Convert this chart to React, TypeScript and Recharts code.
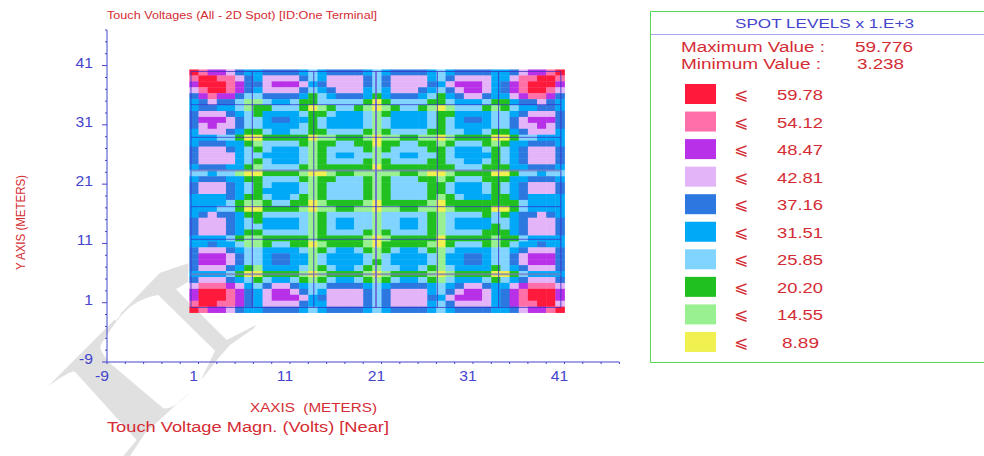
import { Scatter, ScatterChart, XAxis, YAxis } from "recharts";

// spot levels x 1.E+3, highest first
const levelValues = [59.78, 54.12, 48.47, 42.81, 37.16, 31.51, 25.85, 20.2, 14.55, 8.89];
const levelLabels = ["59.78", "54.12", "48.47", "42.81", "37.16", "31.51", "25.85", "20.20", "14.55", "8.89"];
const levelColors = ["#ff1a3c", "#ff70a8", "#b830e8", "#e4b4f8", "#2c78e0", "#00a8f8", "#80d4ff", "#20c020", "#98f090", "#f0f050"];
const levelCodes = "RPULDAGHIY";

const axisTicks = [-9, -7, -5, -3, -1, 1, 3, 5, 7, 9, 11, 13, 15, 17, 19, 21, 23, 25, 27, 29, 31, 33, 35, 37, 39, 41, 43, 45, 47];
const labelledTicks = [-9, 1, 11, 21, 31, 41];

// one letter per cell, top row first
const gridRows = [
  "RPUULDAADDDDAGADDDDAGADDDDAGADDDDAADLUUPR",
  "PRRPPLDALLLLDGALLLLDGDLLLLAGDLLLLAALPPRRP",
  "URRRPUDDLUUULADLLLLDGDLLLLDALUUULADUPRRRU",
  "LPRRPUDALLLLDGADLLLAGALLLDAGDLUULADUPRRPL",
  "DUPUUDGGDDDDAHGADDDAHADDDAGHADLLDAALUPPUD",
  "ADLDDGIIGAAGHHGGGGGHYHGGGGHHGAAAGHHADDLDA",
  "ADDAAGIHHGGGHYIHGGHIYIHGGHIYIGGGHIHGAADDA",
  "DLLLDAGHAAAAGHHGAAAGIHAAAAGHHAAAAGGADLLLD",
  "DUUULDGGADDAAHGAAAAGIGAAAAGHGADDAGGDLUUUD",
  "DLULLDGGAAAAGHGAAAAGIGAAAAGHGAAAAGGDLLULD",
  "ALLLDAHHGAAGGHHGGGGHIHGGGGHHGGAAGHHADLLLA",
  "AAAGGHYYHHHHHYIIHHHIYIIHHIIYIHHHHYYHGGAAA",
  "ADDDAAHIGGGGHIHHGGHHYHHGGHHIHGGGHIHAADDDA",
  "DLLLDAGHGAAAGIHGGGGHIHGGGGHHGAAAGHGADLLLD",
  "DLLLLAGGAAAAGIHGAAGGIGGAAGGHGAAAAHGADLLLD",
  "DLLLLAGHGAAAGIHGGGGHIHGGGGHHGGAAGHGADLLLD",
  "ADDDAAHIGGGGHIHHHHHHYHHHHHHHHGGGHHHAADDDA",
  "GGAGGIYYHHHHIYYIHHIIIIIHHIYYIHHHHYYHGGAGG",
  "ADDDAAHHGGGGHIHHGGGHIHGGGHHIHGGGHHHAADDDA",
  "DLLLDAGHGAAAGIHGGGGHIHGGGGHHGAAAGHGADLLLD",
  "DLLLDAGHAAAAGIHGGGGHIHGGGGHHGAAAGHGADLLLD",
  "AAAADAHHGAAGHIHGGGGHIHGGGGHIHGAAAHHADAAAA",
  "AAAAGHIIHGGHHYIHHHHIYHHHHHIYHHHHHHHHGAAAA",
  "AAAGGHYYHHHHIYIIHHIIYIIHHIIYIHHHHYYHGAAAA",
  "ADLDDAHHGGGGGIHGGGGGIGGGGGHIGGGGHGHADDLDA",
  "DLLLDAGHAAAAGIHGAAGGIGGAAGHIGAAAAGGADLLLD",
  "DLLLDAGGAAAAGIHGAAGGIGGAAGHIGAAAAHGADLLLD",
  "DLLLDAHHGGGGGIHGGGGHIHGGGGHIGGGGHHHADLLLD",
  "AAAAGHIIHHHHHIHHHHHIYIHHHHHYHHHHHIHHGAAAA",
  "AADAAGIIHGGHHYIHHHHIYHHHHHIYHGGGHIHGAADAA",
  "DLLLDAGGAAAAGIHGAAGHIHGAAGHIGAAAAGGADLLLD",
  "DUUULDGGADDAAIGAAAAGIGAAAAGIAADDAGGDLUUUD",
  "DUUULDGGADDAAIGAAAAGHGAAAAGIAADDAGGDLUUUD",
  "DLLLDAHIAAAAGIHGAAGHIGGAAGHIGAAAAHGADLLLD",
  "AAAAGHYYHHHHIYIHHHHIYIHHHHIYIHHHHYYHGAAAA",
  "DLLLDAGHGAAGHIHGAAGHIHGAAGHIGAAAGHGADLLLD",
  "LPPPULAGDLLDAGGDDDDAGADDDDAGADLLDAALUPPPL",
  "URRRPUDALUULDGALLLLDGDLLLLAGDLUULADUPRRRU",
  "URRRPUDALUUULADLLLLDGDLLLLDALUUULADUPRRRU",
  "PRRPPUDALLLLDAALLLLDGDLLLLAGDLLLLADUPPRRL",
  "RPUULDAADDDDAGADDDDAGADDDDAGADDDDAADLUUPR",
];

// grid conductors, metres
const conductorX = [0.18, 6.88, 13.6, 20.4, 27.1, 33.8, 40.6];
const conductorY = [40, 34.4, 28.9, 23.3, 17.2, 11.7, 5.8, 0.2];
const softConductors = [20.4, 23.3, 5.8];

const plot = { left: 107, right: 619.4, top: 30, bottom: 362 };
const domain: [number, number] = [-9, 47];
const cellW = (plot.right - plot.left) / (domain[1] - domain[0]);
const cellH = (plot.bottom - plot.top) / (domain[1] - domain[0]);

const cells = gridRows.flatMap((row, r) =>
  row.split("").map((code, c) => ({
    x: c + 0.5,
    y: 39.84 - r,
    value: levelValues[levelCodes.indexOf(code)],
  }))
);

const BLUE = "#4444cc";
const RED = "#d42c34";
const FONT = "Liberation Sans, Arial, sans-serif";

const CellShape = ({ cx, cy, payload }: any) => (
  <rect
    x={cx - cellW / 2}
    y={cy - cellH / 2}
    width={cellW + 0.4}
    height={cellH + 0.4}
    fill={levelColors[levelValues.indexOf(payload.value)]}
  />
);

const NoPoint = () => null;

const XTick = ({ x, y, payload }: any) => {
  const labelled = labelledTicks.includes(payload.value);
  return (
    <g>
      <line x1={x} x2={x} y1={y} y2={y + 2} stroke={BLUE} />
      {labelled && (
        <text x={x - 5} y={y + 19} textAnchor="middle" fill={BLUE} fontSize={14} fontFamily={FONT} transform={`translate(${x - 5} 0) scale(1.12 1) translate(${5 - x} 0)`}>
          {payload.value}
        </text>
      )}
    </g>
  );
};

const YTick = ({ x, y, payload }: any) => {
  const labelled = labelledTicks.includes(payload.value);
  const right = x - 14;
  return (
    <g>
      <line x1={x - (labelled ? 5 : 2)} x2={x} y1={y} y2={y} stroke={BLUE} />
      {labelled && (
        <text x={right} y={y + 2} textAnchor="end" fill={BLUE} fontSize={14} fontFamily={FONT} transform={`translate(${right} 0) scale(1.12 1) translate(${-right} 0)`}>
          {payload.value}
        </text>
      )}
    </g>
  );
};

const Watermark = () => (
  <svg width={984} height={456} style={{ position: "absolute", left: 0, top: 0 }}>
    <path
      d="M48.3 386 L116 318.3 L160 272.7 L188.3 263.3 L188.3 281.7 L176 289.3 L188.3 301.7 L226.7 340 L256 325 L254 328.3 L230 345 L218.3 358.3 L200.7 380.7 L215 350.7 L158.3 295 C130 300 120 315 101.7 343.3 C98.3 348.3 101.7 351.7 108.3 361.7 L163.3 408.3 Q173.3 410 189.3 392.7 L145 433.3 L130 456 L123.3 456 L136.7 440 L75 371.7 Q71.7 369.3 48.3 386 Z"
      fill="#e0e0e0"
    />
    <line x1={115} y1={320} x2={120} y2={314} stroke="#fff" strokeWidth={2} />
  </svg>
);

const Panel = () => (
  <svg width={984} height={456} style={{ position: "absolute", left: 0, top: 0, fontFamily: FONT }}>
    <text x={107} y={19} fontSize={10} fill={RED} textLength={270} lengthAdjust="spacingAndGlyphs">Touch Voltages (All - 2D Spot) [ID:One Terminal]</text>
    <text x={250} y={412} fontSize={12} fill={RED} textLength={127} lengthAdjust="spacingAndGlyphs">{"XAXIS\u00a0\u00a0(METERS)"}</text>
    <text x={107} y={432} fontSize={14} fill={RED} textLength={282} lengthAdjust="spacingAndGlyphs">Touch Voltage Magn. (Volts) [Near]</text>
    <text transform="translate(25 270) rotate(-90)" fontSize={12} fill={RED} textLength={95} lengthAdjust="spacingAndGlyphs">Y AXIS (METERS)</text>

    <path d="M984 11.5 H650.5 V362.5 H984" fill="none" stroke="#58d858" />
    <line x1={651} x2={984} y1={34.5} y2={34.5} stroke="#a8a8ec" />
    <text x={735} y={28} fontSize={13} fill={BLUE} textLength={179} lengthAdjust="spacingAndGlyphs">SPOT LEVELS x 1.E+3</text>
    <text x={681} y={52} fontSize={14} fill={RED} textLength={144} lengthAdjust="spacingAndGlyphs">Maximum Value :</text>
    <text x={855} y={52} fontSize={14} fill={RED} textLength={58} lengthAdjust="spacingAndGlyphs">59.776</text>
    <text x={681} y={69} fontSize={14} fill={RED} textLength={140} lengthAdjust="spacingAndGlyphs">Minimum Value :</text>
    <text x={857} y={69} fontSize={14} fill={RED} textLength={47} lengthAdjust="spacingAndGlyphs">3.238</text>
    {levelLabels.map((label, i) => {
      const cy = 94 + i * 27.55;
      return (
        <g key={label}>
          <rect x={685} y={cy - 10} width={31} height={20} fill={levelColors[i]} />
          <text x={734} y={cy + 6} fontSize={17} fill={RED} fontFamily="DejaVu Sans">⩽</text>
          <text x={label.length > 4 ? 777 : 782} y={cy + 6} fontSize={14} fill={RED} textLength={label.length > 4 ? 46 : 37} lengthAdjust="spacingAndGlyphs">{label}</text>
        </g>
      );
    })}
  </svg>
);

export default function App() {
  return (
    <div style={{ position: "absolute", left: 0, top: 0, width: 984, height: 456, background: "#fff", overflow: "hidden" }}>
      <Watermark />
      <div style={{ position: "absolute", left: 0, top: 0 }}>
        <ScatterChart
          width={984}
          height={456}
          margin={{ left: plot.left - 40, right: 984 - plot.right, top: plot.top, bottom: 456 - plot.bottom - 30 }}
        >
          <XAxis
            type="number"
            dataKey="x"
            domain={domain}
            ticks={axisTicks}
            interval={0}
            height={30}
            stroke={BLUE}
            tickLine={false}
            tickSize={0}
            tickMargin={0}
            tick={<XTick />}
          />
          <YAxis
            type="number"
            dataKey="y"
            domain={domain}
            ticks={axisTicks}
            interval={0}
            width={40}
            stroke={BLUE}
            tickLine={false}
            tickSize={0}
            tickMargin={0}
            tick={<YTick />}
          />
          <Scatter data={cells} shape={<CellShape />} isAnimationActive={false} />
          {conductorX.map((x) => (
            <Scatter
              key={`x${x}`}
              data={[{ x, y: conductorY[7] }, { x, y: conductorY[0] }]}
              shape={<NoPoint />}
              line={{ stroke: softConductors.includes(x) ? "#6a60d8" : "#3a30c8", strokeOpacity: 0.85, strokeWidth: softConductors.includes(x) ? 2 : 1 }}
              isAnimationActive={false}
            />
          ))}
          {conductorY.map((y) => (
            <Scatter
              key={`y${y}`}
              data={[{ x: conductorX[0], y }, { x: conductorX[6], y }]}
              shape={<NoPoint />}
              line={{ stroke: softConductors.includes(y) ? "#7a78c0" : "#3a30c8", strokeOpacity: 0.75, strokeWidth: softConductors.includes(y) ? 2 : 1 }}
              isAnimationActive={false}
            />
          ))}
        </ScatterChart>
      </div>
      <Panel />
    </div>
  );
}
